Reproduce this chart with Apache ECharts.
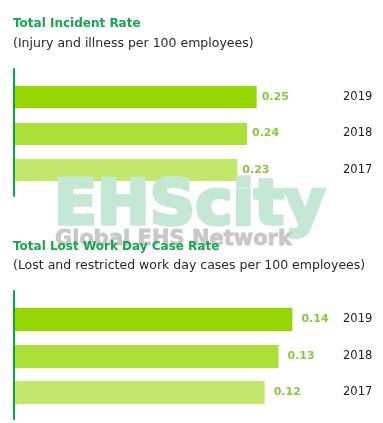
<!DOCTYPE html>
<html><head><meta charset="utf-8">
<script src="https://cdn.jsdelivr.net/npm/echarts@6/dist/echarts.min.js"></script>
<style>html,body{margin:0;padding:0;background:#fff}#c{width:383px;height:423px}</style>
</head><body><div id="c"></div>
<script>
const years = ['2017', '2018', '2019'];
const incidentRate = [0.23, 0.24, 0.25];
const lostWorkDayRate = [0.12, 0.13, 0.14];
const barColors = ['#c2e86b', '#abe037', '#97d700'];
const titles = ['Total Incident Rate', 'Total Lost Work Day Case Rate'];
const subtitles = ['(Injury and illness per 100 employees)', '(Lost and restricted work day cases per 100 employees)'];
const watermark = ['EHScity', 'Global EHS Network'];

const topAxis = { min: 0, max: 0.33 };
const bottomAxis = { min: -0.06, max: 0.17 };

function makeRender(xMin, barH, gap) {
  return function (params, api) {
    const v = api.value(0), c = api.value(1);
    const p0 = api.coord([xMin, c]);
    const p1 = api.coord([v, c]);
    const y0 = Math.round(p0[1] - barH / 2);
    return {
      type: 'group',
      children: [
        { type: 'rect', shape: { x: p0[0], y: y0, width: p1[0] - p0[0], height: barH },
          style: { fill: barColors[params.dataIndex] } },
        { type: 'text', x: p1[0] + gap, y: p1[1],
          style: { text: v.toFixed(2), fill: '#8cc63e', fontSize: 11, fontWeight: 'bold',
                   fontFamily: 'DejaVu Sans', align: 'left', verticalAlign: 'middle' } }
      ]
    };
  };
}

const lineAxis = (gi) => ({
  gridIndex: gi, type: 'value', min: 0, max: 1,
  axisLine: { show: true, onZero: false, lineStyle: { color: '#0aa845', width: 2 } },
  axisTick: { show: false }, axisLabel: { show: false }, splitLine: { show: false }
});
const catAxis = (gi) => ({
  gridIndex: gi, type: 'category', data: years, position: 'right',
  axisLine: { show: false }, axisTick: { show: false }, splitLine: { show: false },
  axisLabel: { margin: 9, color: '#1e1e1e', fontSize: 11.5, fontFamily: 'DejaVu Sans', align: 'left' }
});

const chart = echarts.init(document.getElementById('c'));
chart.setOption({
  animation: false,
  backgroundColor: '#fff',
  grid: [
    { left: 14, top: 69, width: 1, height: 127 },
    { left: 15, right: 49, top: 78.5, height: 110 },
    { left: 14, top: 291, width: 1, height: 128 },
    { left: 15, right: 49, top: 301.25, height: 109.5 }
  ],
  xAxis: [
    { gridIndex: 0, type: 'value', min: 0, max: 1, show: false },
    { gridIndex: 1, type: 'value', min: topAxis.min, max: topAxis.max, show: false },
    { gridIndex: 2, type: 'value', min: 0, max: 1, show: false },
    { gridIndex: 3, type: 'value', min: bottomAxis.min, max: bottomAxis.max, show: false }
  ],
  yAxis: [lineAxis(0), catAxis(1), lineAxis(2), catAxis(3)],
  series: [
    { type: 'custom', xAxisIndex: 1, yAxisIndex: 1, encode: { x: 0, y: 1 },
      renderItem: makeRender(topAxis.min, 22, 5),
      data: incidentRate.map((v, i) => [v, i]) },
    { type: 'custom', xAxisIndex: 3, yAxisIndex: 3, encode: { x: 0, y: 1 },
      renderItem: makeRender(bottomAxis.min, 23, 9),
      data: lostWorkDayRate.map((v, i) => [v, i]) }
  ],
  graphic: { elements: [
    { type: 'text', z: 100, x: 54, y: 207.5, style: { text: watermark[0], fill: '#c5e8d5',
      stroke: '#c5e8d5', lineWidth: 3.5, blend: 'darken',
      fontSize: 63, fontWeight: 'bold', fontFamily: 'DejaVu Sans', verticalAlign: 'middle' } },
    { type: 'text', z: 100, x: 55, y: 240, style: { text: watermark[1], fill: '#c8c8c8',
      stroke: '#c8c8c8', lineWidth: 0.8, blend: 'darken',
      fontSize: 21, fontWeight: 'bold', fontFamily: 'DejaVu Sans', verticalAlign: 'middle' } },
    { type: 'text', z: 110, x: 13, y: 24, style: { text: titles[0], fill: '#14a84b',
      fontSize: 12, fontWeight: 'bold', fontFamily: 'DejaVu Sans', verticalAlign: 'middle' } },
    { type: 'text', z: 110, x: 13, y: 43.5, style: { text: subtitles[0], fill: '#262634',
      fontSize: 12.5, fontFamily: 'DejaVu Sans', verticalAlign: 'middle' } },
    { type: 'text', z: 110, x: 13, y: 246.5, style: { text: titles[1], fill: '#14a84b',
      fontSize: 12, fontWeight: 'bold', fontFamily: 'DejaVu Sans', verticalAlign: 'middle' } },
    { type: 'text', z: 110, x: 13, y: 266, style: { text: subtitles[1], fill: '#262634',
      fontSize: 12.5, fontFamily: 'DejaVu Sans', verticalAlign: 'middle' } }
  ] }
});
</script></body></html>
